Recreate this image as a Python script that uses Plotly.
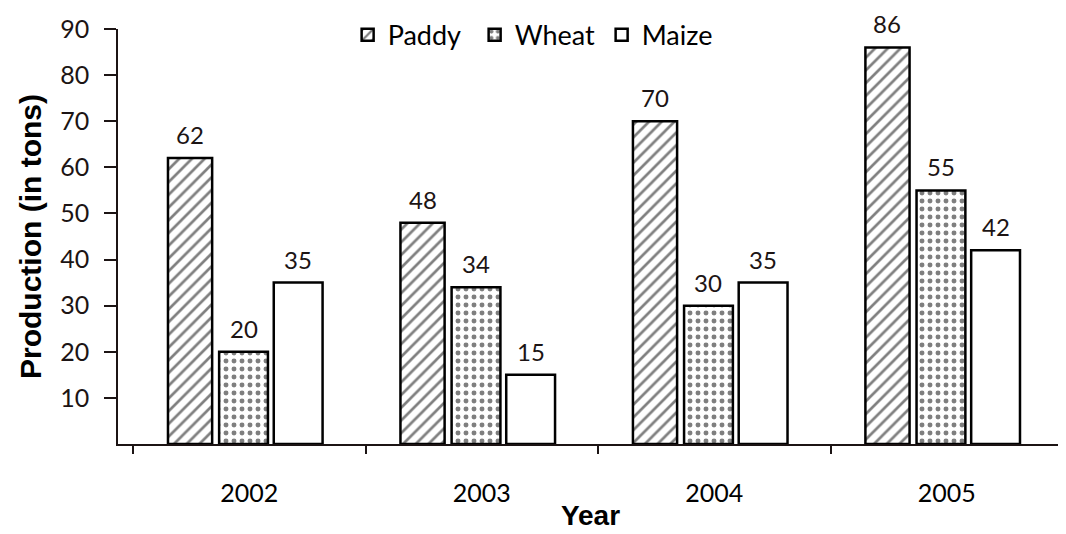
import plotly.graph_objects as go

years = ["2002", "2003", "2004", "2005"]
paddy = [62, 48, 70, 86]
wheat = [20, 34, 30, 55]
maize = [35, 15, 35, 42]

series = [
    ("Paddy", paddy, "/", -0.35, 0.19),
    ("Wheat", wheat, ".", -0.13, 0.21),
    ("Maize", maize, "", 0.105, 0.21),
]

ink = "#1c1414"
fig = go.Figure()
annotations = []
for name, vals, shape, off, w in series:
    fig.add_trace(go.Bar(
        name=name, x=years, y=vals, offset=off, width=w,
        marker=dict(color="white",
                    line=dict(color="black", width=2.5),
                    pattern=dict(shape=shape, fgcolor="black", bgcolor="white",
                                 size=9 if shape == "/" else 8,
                                 solidity=0.3)),
    ))
    for i, v in enumerate(vals):
        annotations.append(dict(
            x=i + off + w / 2, y=v, xref="x", yref="y", text=str(v),
            showarrow=False, yanchor="bottom", yshift=7,
            font=dict(family="Lato", size=24, color=ink)))

# page body has an 8px margin, so the figure is sized to fit the window
fig.update_layout(
    width=1058, height=526,
    margin=dict(l=110, r=3, t=16, b=90),
    plot_bgcolor="white", paper_bgcolor="white",
    barmode="overlay",
    annotations=annotations,
    font=dict(family="Lato", size=22, color=ink),
    legend=dict(orientation="h", x=0.243, xanchor="left", y=0.985, yanchor="middle",
                font=dict(family="Lato", size=27, color="black"),
                bgcolor="rgba(0,0,0,0)", itemwidth=30, tracegroupgap=0,
                entrywidth=82, entrywidthmode="pixels"),
    xaxis=dict(type="category", range=[-0.565, 3.5], tickson="boundaries",
               automargin=False,
               ticks="outside", ticklen=8, tickwidth=1.5, tickcolor=ink,
               showline=True, linecolor=ink, linewidth=1.5, showgrid=False,
               ticklabelstandoff=26, tickfont=dict(family="Lato", size=25, color="black"),
               title=dict(text="<b>Year</b>", standoff=0,
                          font=dict(family="Liberation Sans", size=28, color="black"))),
    yaxis=dict(range=[0, 90], tickvals=[10, 20, 30, 40, 50, 60, 70, 80, 90],
               automargin=False,
               ticks="outside", ticklen=12, tickwidth=1.5, tickcolor=ink,
               showline=True, linecolor=ink, linewidth=1.5, showgrid=False, zeroline=False,
               ticklabelstandoff=10,
               tickfont=dict(family="Lato", size=25, color=ink),
               title=dict(text="<b>Production (in tons)</b>", standoff=10,
                          font=dict(family="Liberation Sans", size=30, color="black"))),
)
fig.write_html("out.html")
